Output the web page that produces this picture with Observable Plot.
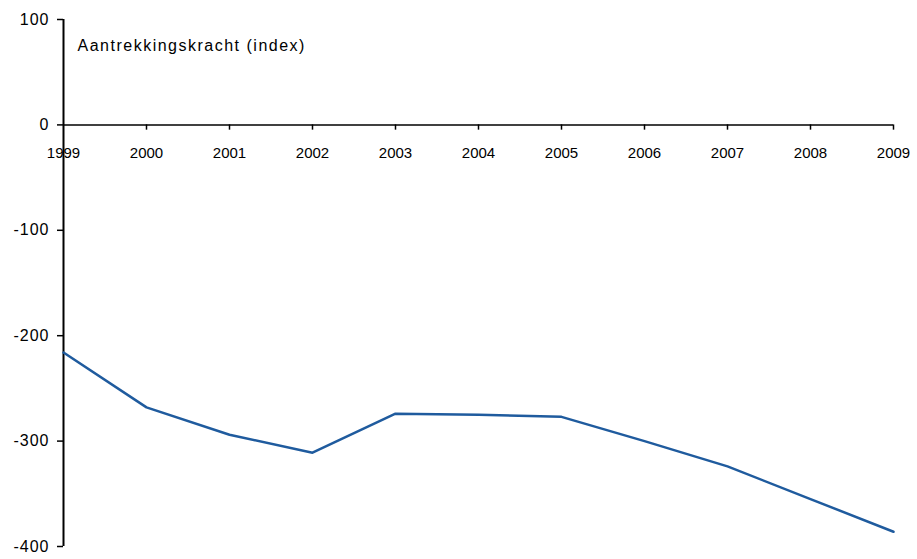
<!DOCTYPE html>
<html>
<head>
<meta charset="utf-8">
<script src="https://cdn.jsdelivr.net/npm/d3@7"></script>
<script src="https://cdn.jsdelivr.net/npm/@observablehq/plot@0.6"></script>
<style>
  body { margin: 0; background: #fff; }
  #chart svg { display: block; }
</style>
</head>
<body>
<div id="chart"></div>
<script>
const years = [1999, 2000, 2001, 2002, 2003, 2004, 2005, 2006, 2007, 2008, 2009];
const values = [-216, -268, -294, -311, -274, -275, -277, -300, -324, -355, -386];
const yTicks = [-400, -300, -200, -100, 0, 100];
const title = "Aantrekkingskracht (index)";

const data = years.map((y, i) => ({year: y, value: values[i]}));
const font = "'Liberation Sans', Arial, sans-serif";

const chart = Plot.plot({
  width: 917,
  height: 559,
  marginLeft: 63,
  marginRight: 24,
  marginTop: 19,
  marginBottom: 13,
  style: {fontFamily: font, fontSize: "15px", color: "#000", background: "#fff"},
  x: {type: "linear", domain: [1999, 2009], axis: null},
  y: {domain: [-400, 100], axis: null},
  marks: [
    Plot.axisY({ticks: yTicks, label: null, tickSize: 6, tickPadding: 8, tickFormat: d => String(d), fontSize: 16, stroke: "#000", strokeWidth: 1.5, color: "#000"}),
    Plot.text(years, {x: d => d, y: 0, dy: 28, text: d => String(d), textAnchor: "middle", lineAnchor: "middle", fontSize: 15, fill: "#000"}),
    Plot.ruleY([0], {stroke: "#000", strokeWidth: 1.5}),
    Plot.ruleX(years.slice(1), {x: d => d, y1: 0, y2: -5, stroke: "#000", strokeWidth: 1.5}),
    Plot.ruleX([1999], {stroke: "#000", strokeWidth: 2}),
    Plot.line(data, {x: "year", y: "value", stroke: "#1f5b9e", strokeWidth: 2.5}),
    Plot.text([title], {frameAnchor: "top-left", dx: 14, dy: 20, lineAnchor: "top", textAnchor: "start", fontSize: 16, fill: "#000"})
  ]
});
const yLabelSet = new Set(yTicks.map(String));
d3.select(chart).selectAll("text").each(function() {
  const t = this.textContent;
  if (t === title) this.setAttribute("letter-spacing", "1.5");
  else if (yLabelSet.has(t)) this.setAttribute("letter-spacing", "1");
});
document.getElementById("chart").appendChild(chart);
</script>
</body>
</html>
